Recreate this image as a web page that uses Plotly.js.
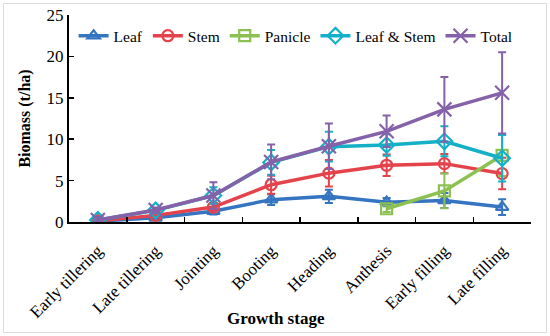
<!DOCTYPE html>
<html><head><meta charset="utf-8">
<script src="https://cdn.plot.ly/plotly-3.0.1.min.js"></script>
<style>html,body{margin:0;padding:0;background:#fff}#wrap{position:relative;width:550px;height:336px}#chart{width:550px;height:336px}#frame{position:absolute;left:3px;top:3px;width:542px;height:328px;border:1px solid #dcdcdc;pointer-events:none}</style>
</head><body><div id="wrap"><div id="chart"></div><div id="frame"></div></div>
<script>
const stages = ["Early tillering","Late tillering","Jointing","Booting","Heading","Anthesis","Early filling","Late filling"];
const leaf = [0.1, 0.5, 1.3, 2.7, 3.1, 2.4, 2.6, 1.8];
const leafErr = [0.05, 0.15, 0.4, 0.65, 0.8, 0.5, 0.9, 0.95];
const stem = [0.15, 0.8, 1.8, 4.5, 5.9, 6.85, 7.05, 5.85];
const stemErr = [0.05, 0.2, 0.4, 1.1, 1.6, 1.3, 1.15, 1.9];
const panicle = [null, null, null, null, null, 1.6, 3.75, 8.05];
const panicleErr = [null, null, null, null, null, 0.4, 2.1, 2.5];
const leafStem = [0.25, 1.4, 3.2, 7.2, 9.1, 9.3, 9.75, 7.7];
const leafStemErr = [0.1, 0.3, 1.0, 1.5, 1.8, 1.3, 1.8, 2.8];
const total = [0.25, 1.45, 3.2, 7.25, 9.15, 10.95, 13.6, 15.6];
const totalErr = [0.2, 0.3, 1.6, 2.1, 2.75, 1.9, 3.9, 4.9];

function tr(name, y, err, color, symbol, size){
  return {type:'scatter', mode:'lines+markers', name:name, x:stages, y:y,
    line:{color:color, width:3.5},
    marker:{symbol:symbol, size:size, color:color, line:{color:color, width:2.2}},
    error_y:{type:'data', array:err, visible:true, color:color, thickness:2, width:4},
    connectgaps:false};
}
const data = [
  tr('Leaf', leaf, leafErr, '#3574c0', 'triangle-up-open', 11),
  tr('Stem', stem, stemErr, '#e5434b', 'circle-open', 11),
  tr('Panicle', panicle, panicleErr, '#8cc152', 'square-open', 11),
  tr('Leaf & Stem', leafStem, leafStemErr, '#14b0c8', 'diamond-open', 12),
  tr('Total', total, totalErr, '#8561a9', 'x-thin-open', 14)
];
const serif = 'Liberation Serif, serif';
const layout = {
  width:550, height:336,
  margin:{l:69, r:19, t:15, b:114},
  paper_bgcolor:'#fff', plot_bgcolor:'#fff',
  font:{family:serif, color:'#000'},
  showlegend:true,
  legend:{orientation:'h', x:0.01, y:0.98, xanchor:'left', yanchor:'top',
    font:{family:serif, size:15.5, color:'#000'}, bgcolor:'rgba(0,0,0,0)',
    itemwidth:30, tracegroupgap:0},
  xaxis:{type:'category', range:[-0.5,7.5], showline:true, linecolor:'#000', linewidth:2,
    ticks:'inside', ticklen:5, tickwidth:1.5, tickcolor:'#000', tickson:'boundaries',
    tickangle:-45, ticklabelstandoff:10, tickfont:{family:serif, size:17, color:'#000'},
    showgrid:false, zeroline:false},
  yaxis:{range:[0,25], dtick:5, showline:true, linecolor:'#000', linewidth:2,
    ticks:'inside', ticklen:5, tickwidth:1.5, tickcolor:'#000',
    tickfont:{family:serif, size:17, color:'#000'},
    showgrid:false, zeroline:false,
    title:{text:'<b>Biomass (t/ha)</b>', font:{family:serif, size:16, color:'#000'}, standoff:12}},
  annotations:[{text:'<b>Growth stage</b>', xref:'paper', yref:'paper', x:0.448, y:-0.465,
    xanchor:'center', yanchor:'middle', showarrow:false, font:{family:serif, size:17, color:'#000'}}]
};
Plotly.newPlot('chart', data, layout, {displayModeBar:false, staticPlot:true});
</script></body></html>
